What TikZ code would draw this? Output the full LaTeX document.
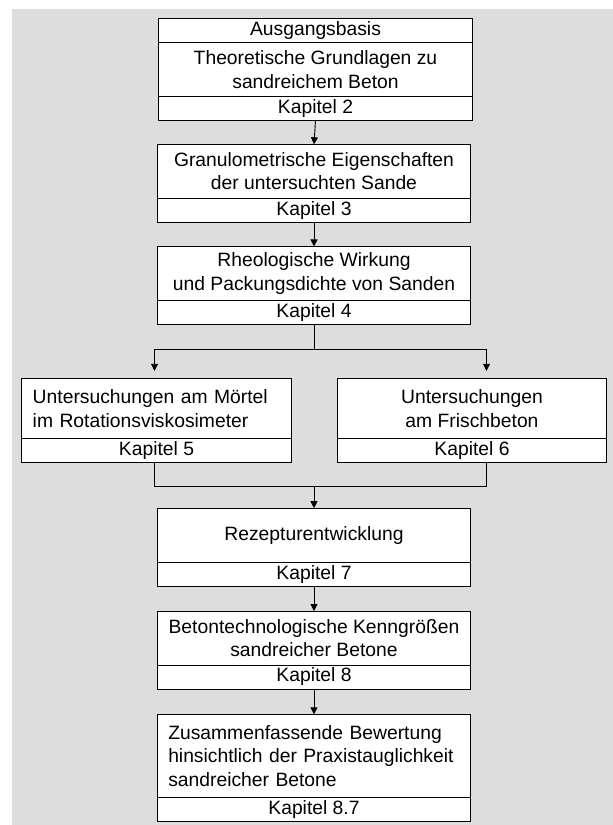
\documentclass[tikz,border=0pt]{standalone}
\usepackage{fontspec}
\setmainfont{Liberation Sans}
\usepackage{tikz}
\usetikzlibrary{positioning}
\usetikzlibrary{arrows.meta}
\definecolor{hintergrund}{RGB}{221,221,221}

\begin{document}
\begin{tikzpicture}[x=1bp, y=-1bp,
	feld/.style = {draw, fill=white, line width=0.9bp, outer sep=0pt, inner sep=0pt, minimum width=313.5bp, align=center, font=\fontsize{19.3bp}{23.5bp}\selectfont},
	titel/.style = {feld, minimum height=54bp},
	kapitel/.style = {feld, minimum height=24bp},
	seite/.style = {minimum width=269.5bp},
	links/.style = {align=left, text width=#1, inner xsep=11bp},
	pfeil/.style = {-{Triangle[length=7bp,width=7bp]}, line width=0.9bp}]

	\useasboundingbox (0,0) rectangle (613,825);
	\fill[hintergrund] (12,9) rectangle (613,825);

	\node[feld, minimum height=24bp] (basis) at (315.5,30.3) {Ausgangsbasis};
	\node[feld, minimum height=54.5bp, below=0pt of basis] (t2) {Theoretische Grundlagen zu\\sandreichem Beton};
	\node[kapitel, minimum height=23.5bp, below=0pt of t2] (k2) {Kapitel 2};

	\node[titel] (t3) at (314,171.3) {Granulometrische Eigenschaften\\der untersuchten Sande};
	\node[kapitel, below=0pt of t3] (k3) {Kapitel 3};

	\node[titel] (t4) at (314,273.4) {Rheologische Wirkung\\und Packungsdichte von Sanden};
	\node[kapitel, below=0pt of t4] (k4) {Kapitel 4};

	\node[titel, seite, minimum height=60.4bp, links=247.5bp] (t5) at (156.5,408.5) {Untersuchungen am M\"ortel\\im Rotationsviskosimeter};
	\node[kapitel, seite, below=0pt of t5] (k5) {Kapitel 5};

	\node[titel, seite, minimum height=60.4bp] (t6) at (472,408.5) {Untersuchungen\\am Frischbeton};
	\node[kapitel, seite, below=0pt of t6] (k6) {Kapitel 6};

	\node[titel] (t7) at (314,535.2) {Rezepturentwicklung};
	\node[kapitel, below=0pt of t7] (k7) {Kapitel 7};

	\node[titel] (t8) at (314,638) {Betontechnologische Kenngr\"o\ss en\\sandreicher Betone};
	\node[kapitel, below=0pt of t8] (k8) {Kapitel 8};

	\node[titel, minimum height=82.7bp, links=291.5bp] (t87) at (314,755.7) {Zusammenfassende Bewertung\\hinsichtlich der Praxistauglichkeit\\sandreicher Betone};
	\node[kapitel, below=0pt of t87] (k87) {Kapitel 8.7};

	\coordinate (sl) at (154.5,349);
	\coordinate (sr) at (486.5,349);
	\coordinate (jl) at (154.5,486);
	\coordinate (jr) at (486.5,486);

	\draw[pfeil] (k2.south) -- (t3.north);
	\draw[pfeil] (k3.south) -- (t4.north);

	\draw[line width=0.9bp] (k4.south) -- (k4.south |- sl);
	\draw[line width=0.9bp] (sl) -- (sr);
	\draw[pfeil, shorten >=7.5bp] (sl) -- (sl |- t5.north);
	\draw[pfeil, shorten >=7.5bp] (sr) -- (sr |- t6.north);

	\draw[line width=0.9bp] (k5.south -| jl) -- (jl) -- (jr) -- (k6.south -| jr);
	\draw[pfeil] (t7.north |- jl) -- (t7.north);

	\draw[pfeil] (k7.south) -- (t8.north);
	\draw[pfeil] (k8.south) -- (t87.north);

\end{tikzpicture}
\end{document}
